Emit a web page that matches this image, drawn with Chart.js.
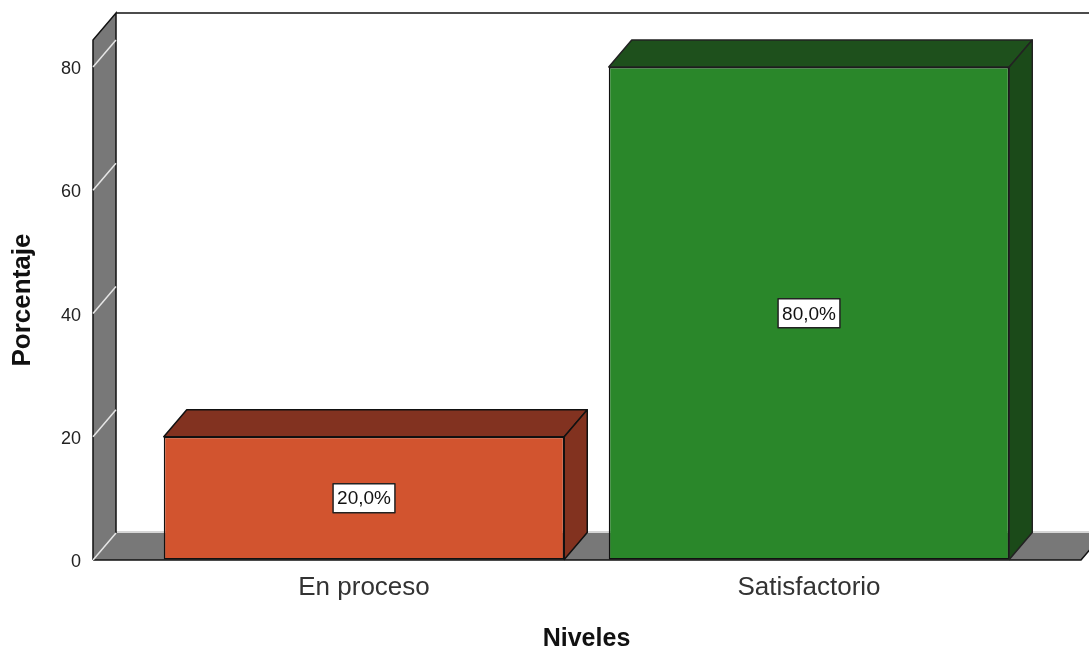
<!DOCTYPE html>
<html>
<head>
<meta charset="utf-8">
<script src="https://cdn.jsdelivr.net/npm/chart.js@4"></script>
<style>
  body { margin: 0; background: #fff; }
</style>
</head>
<body>
<canvas id="myChart" width="1089" height="649"></canvas>
<script>
const categories = ['En proceso', 'Satisfactorio'];
const percentages = [20.0, 80.0];
const tickValues = [0, 20, 40, 60, 80];

const frontColors = ['#d2542f', '#2a872a'];
const topColors = ['#823220', '#1e501c'];
const sideColors = ['#82321f', '#1b4a19'];

// fake 3d depth, same for the walls and the bars
const dx = 23;
const dy = -27;

const fontFamily = "'Liberation Sans', Arial, sans-serif";

const box3d = {
    id: 'box3d',

    beforeDatasetsDraw(chart) {
        const { ctx, chartArea: a, scales: { y } } = chart;
        const wallX = a.left - 48.5;
        const floorR = a.right + 49.5;
        const base = y.getPixelForValue(0);

        ctx.save();
        ctx.lineWidth = 1.5;

        // back top edge of the box
        ctx.strokeStyle = '#111';
        ctx.beginPath();
        ctx.moveTo(wallX + dx, a.top + dy);
        ctx.lineTo(chart.width, a.top + dy);
        ctx.stroke();

        // floor
        ctx.fillStyle = '#787878';
        ctx.beginPath();
        ctx.moveTo(wallX, base);
        ctx.lineTo(wallX + dx, base + dy);
        ctx.lineTo(floorR + dx, base + dy);
        ctx.lineTo(floorR, base);
        ctx.closePath();
        ctx.fill();
        ctx.strokeStyle = '#c8c8c8';
        ctx.beginPath();
        ctx.moveTo(wallX + dx, base + dy - 1);
        ctx.lineTo(floorR + dx, base + dy - 1);
        ctx.stroke();
        ctx.strokeStyle = '#111';
        ctx.beginPath();
        ctx.moveTo(wallX, base);
        ctx.lineTo(floorR, base);
        ctx.lineTo(floorR + dx, base + dy);
        ctx.stroke();

        // left wall
        ctx.fillStyle = '#787878';
        ctx.beginPath();
        ctx.moveTo(wallX, a.top);
        ctx.lineTo(wallX + dx, a.top + dy);
        ctx.lineTo(wallX + dx, base + dy);
        ctx.lineTo(wallX, base);
        ctx.closePath();
        ctx.fill();
        ctx.strokeStyle = '#111';
        ctx.beginPath();
        ctx.moveTo(wallX, base);
        ctx.lineTo(wallX, a.top);
        ctx.lineTo(wallX + dx, a.top + dy);
        ctx.lineTo(wallX + dx, base + dy);
        ctx.stroke();

        // grid lines on the wall
        ctx.strokeStyle = '#e6e6e6';
        ctx.lineWidth = 1.5;
        tickValues.forEach((v) => {
            const py = y.getPixelForValue(v);
            ctx.beginPath();
            ctx.moveTo(wallX, py);
            ctx.lineTo(wallX + dx, py + dy);
            ctx.stroke();
        });

        ctx.restore();
    },

    afterDatasetsDraw(chart) {
        const { ctx } = chart;
        const meta = chart.getDatasetMeta(0);

        ctx.save();
        ctx.lineWidth = 1.5;
        ctx.strokeStyle = '#111';
        ctx.lineJoin = 'round';

        meta.data.forEach((bar, i) => {
            const { x, y, base, width } = bar.getProps(['x', 'y', 'base', 'width'], true);
            const left = x - width / 2;
            const right = x + width / 2;

            // top face
            ctx.fillStyle = topColors[i];
            ctx.beginPath();
            ctx.moveTo(left, y);
            ctx.lineTo(left + dx, y + dy);
            ctx.lineTo(right + dx, y + dy);
            ctx.lineTo(right, y);
            ctx.closePath();
            ctx.fill();
            ctx.stroke();

            // side face
            ctx.fillStyle = sideColors[i];
            ctx.beginPath();
            ctx.moveTo(right, y);
            ctx.lineTo(right + dx, y + dy);
            ctx.lineTo(right + dx, base + dy);
            ctx.lineTo(right, base);
            ctx.closePath();
            ctx.fill();
            ctx.stroke();

            // value label
            const label = percentages[i].toFixed(1).replace('.', ',') + '%';
            ctx.font = "19px 'Liberation Sans Narrow', " + fontFamily;
            const tw = ctx.measureText(label).width;
            const cy = (y + base) / 2;
            const bw = tw + 8;
            const bh = 29;
            ctx.fillStyle = '#fff';
            ctx.fillRect(x - bw / 2, cy - bh / 2, bw, bh);
            ctx.lineWidth = 1.5;
            ctx.strokeStyle = '#222';
            ctx.strokeRect(x - bw / 2, cy - bh / 2, bw, bh);
            ctx.fillStyle = '#111';
            ctx.textAlign = 'center';
            ctx.textBaseline = 'middle';
            ctx.fillText(label, x, cy + 1);
        });

        ctx.restore();
    }
};

const ctx = document.getElementById('myChart');

const config = {
    type: 'bar',
    data: {
        labels: categories,
        datasets: [{
            label: 'Porcentaje',
            data: percentages,
            backgroundColor: frontColors,
            borderColor: '#111',
            borderWidth: 1.5,
            borderSkipped: false,
            barPercentage: 0.9,
            categoryPercentage: 1
        }]
    },
    options: {
        responsive: false,
        animation: false,
        layout: {
            padding: { top: 40, right: 57.5, left: 0, bottom: 0 }
        },
        plugins: {
            legend: { display: false },
            tooltip: { enabled: false }
        },
        scales: {
            x: {
                grid: { display: false, drawTicks: false },
                border: { display: false },
                ticks: {
                    color: '#333',
                    padding: 12,
                    maxRotation: 0,
                    font: { family: fontFamily, size: 26 }
                },
                title: {
                    display: true,
                    text: 'Niveles',
                    color: '#111',
                    padding: 0,
                    font: { family: fontFamily, size: 25, weight: 'bold', lineHeight: 0.8 }
                },
                afterFit: (scale) => { scale.height = 89; }
            },
            y: {
                min: 0,
                max: 84.4,
                // invisible tick marks push the labels left of the wall
                grid: {
                    display: true,
                    drawOnChartArea: false,
                    drawTicks: true,
                    tickLength: 57.5,
                    color: 'rgba(0,0,0,0)'
                },
                border: { display: false },
                afterBuildTicks: (axis) => {
                    axis.ticks = tickValues.map((v) => ({ value: v }));
                },
                ticks: {
                    color: '#222',
                    padding: 3,
                    labelOffset: 2,
                    font: { family: fontFamily, size: 18 }
                },
                title: {
                    display: true,
                    text: 'Porcentaje',
                    color: '#111',
                    padding: { top: 7, bottom: 0 },
                    font: { family: fontFamily, size: 26, weight: 'bold' }
                },
                afterFit: (scale) => { scale.width = 141.5; }
            }
        }
    },
    plugins: [box3d]
};

new Chart(ctx, config);
</script>
</body>
</html>
